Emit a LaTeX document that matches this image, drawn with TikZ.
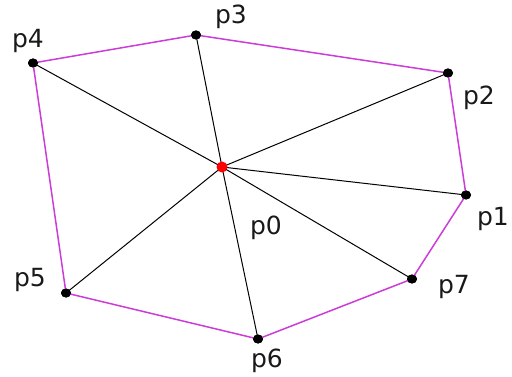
\documentclass[tikz,border=0pt]{standalone}
\usepackage{fontspec}
\setmainfont{DejaVu Sans}
\usetikzlibrary{shapes.geometric}
\definecolor{hullc}{RGB}{204,60,214}
\begin{document}
\begin{tikzpicture}[x=1pt,y=-1pt,
  pt/.style={ellipse,fill=black,inner sep=0pt,minimum width=10pt,minimum height=9pt},
  lbl/.style={font=\fontsize{25}{25}\selectfont,text=black!90,inner sep=0pt},
  hull/.style={draw=hullc,line width=1.5pt},
  spoke/.style={draw=black,line width=1pt}]
\useasboundingbox (0,0) rectangle (512,377);
\node[pt] (p0) at (222,167) {};
\node[pt] (p1) at (466,195) {};
\node[pt] (p2) at (448,73) {};
\node[pt] (p3) at (196,35) {};
\node[pt] (p4) at (33,63) {};
\node[pt] (p5) at (66,293) {};
\node[pt] (p6) at (258,339) {};
\node[pt] (p7) at (412,279) {};
\path[hull] (p4.center) -- (p3.center) -- (p2.center) -- (p1.center) -- (p7.center) -- (p6.center) -- (p5.center) -- cycle;
\foreach \q in {p1,p2,p3,p4,p5,p6,p7} \path[spoke] (p0.center) -- (\q.center);
\foreach \q in {p1,p2,p3,p4,p5,p6,p7} \node[pt] at (\q) {};
\node[circle,fill=red,inner sep=0pt,minimum size=11pt] at (p0) {};
\node[lbl] (l0) at (266,228) {p0};
\node[lbl] (l1) at (493,219) {p1};
\node[lbl] (l2) at (479,98) {p2};
\node[lbl] (l3) at (231,17) {p3};
\node[lbl] (l4) at (28,41) {p4};
\node[lbl] (l5) at (30,280) {p5};
\node[lbl] (l6) at (267,361) {p6};
\node[lbl] (l7) at (454,287) {p7};
\end{tikzpicture}
\end{document}
